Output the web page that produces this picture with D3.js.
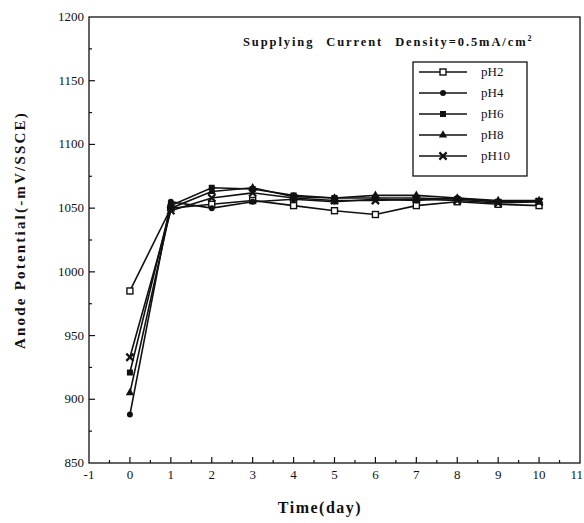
<!DOCTYPE html>
<html>
<head>
<meta charset="utf-8">
<script src="https://cdn.jsdelivr.net/npm/d3@7"></script>
<style>
  body { margin: 0; background: #fff; }
  text { font-family: "Liberation Serif", "DejaVu Serif", serif; fill: #111; }
</style>
</head>
<body>
<div id="chart"></div>
<script>
var days = [0, 1, 2, 3, 4, 5, 6, 7, 8, 9, 10];
var seriesNames = ["pH2", "pH4", "pH6", "pH8", "pH10"];
var pH2  = [985, 1050, 1053, 1056, 1052, 1048, 1045, 1052, 1055, 1053, 1052];
var pH4  = [888, 1055, 1050, 1055, 1057, 1055, 1057, 1056, 1058, 1055, 1056];
var pH6  = [921, 1052, 1066, 1065, 1060, 1058, 1058, 1058, 1057, 1055, 1055];
var pH8  = [905, 1050, 1063, 1066, 1059, 1058, 1060, 1060, 1058, 1056, 1056];
var pH10 = [933, 1048, 1058, 1062, 1058, 1056, 1056, 1057, 1056, 1054, 1055];
var xTicks = [-1, 0, 1, 2, 3, 4, 5, 6, 7, 8, 9, 10, 11];
var yTicks = [850, 900, 950, 1000, 1050, 1100, 1150, 1200];

var seriesValues = [pH2, pH4, pH6, pH8, pH10];
var markers = ["openSquare", "circle", "square", "triangle", "cross"];

var width = 584, height = 523;
var margin = {left: 89, top: 17, right: 4, bottom: 60};

var svg = d3.select("#chart").append("svg")
    .attr("width", width)
    .attr("height", height);

var x = d3.scaleLinear().domain([-1, 11]).range([margin.left, width - margin.right]);
var y = d3.scaleLinear().domain([850, 1200]).range([height - margin.bottom, margin.top]);

//plot frame
svg.append("rect")
    .attr("x", x(-1)).attr("y", y(1200))
    .attr("width", x(11) - x(-1)).attr("height", y(850) - y(1200))
    .style("fill", "none").style("stroke", "#111").style("stroke-width", 1.3);

//minor + major ticks pointing inward
var xMinor = d3.range(-0.5, 11, 0.5);
svg.selectAll(".xtick").data(xMinor).enter().append("line")
    .attr("x1", function(d) { return x(d); }).attr("x2", function(d) { return x(d); })
    .attr("y1", y(850))
    .attr("y2", function(d) { return y(850) - (d % 1 === 0 ? 6 : 3); })
    .style("stroke", "#111").style("stroke-width", 1.2);

var yMinor = d3.range(875, 1200, 25);
svg.selectAll(".ytick").data(yMinor).enter().append("line")
    .attr("y1", function(d) { return y(d); }).attr("y2", function(d) { return y(d); })
    .attr("x1", x(-1))
    .attr("x2", function(d) { return x(-1) + (d % 50 === 0 ? 6 : 3); })
    .style("stroke", "#111").style("stroke-width", 1.2);

//tick labels (last one pulled in so it stays on the page)
svg.selectAll(".xlab").data(xTicks).enter().append("text")
    .attr("x", function(d) { return d === 11 ? width - 1 : x(d); })
    .attr("y", y(850) + 16)
    .style("text-anchor", function(d) { return d === 11 ? "end" : "middle"; })
    .style("font-size", "13px")
    .text(function(d) { return d; });

svg.selectAll(".ylab").data(yTicks).enter().append("text")
    .attr("x", x(-1) - 5)
    .attr("y", function(d) { return y(d) + 4; })
    .style("text-anchor", "end")
    .style("font-size", "13px")
    .text(function(d) { return d; });

//axis titles
svg.append("text")
    .attr("x", 320)
    .attr("y", 513)
    .style("text-anchor", "middle")
    .style("font-size", "16px")
    .style("font-weight", "bold")
    .style("letter-spacing", "1.5px")
    .text("Time(day)");

svg.append("text")
    .attr("transform", "translate(25,230) rotate(-90)")
    .style("text-anchor", "middle")
    .style("font-size", "15px")
    .style("font-weight", "bold")
    .style("letter-spacing", "2.2px")
    .text("Anode Potential(-mV/SSCE)");

//chart title
var title = svg.append("text")
    .attr("x", 243).attr("y", 46)
    .style("font-size", "12.5px")
    .style("font-weight", "bold")
    .style("letter-spacing", "1.9px")
    .style("word-spacing", "7px")
    .text("Supplying Current Density=0.5mA/cm");
title.append("tspan").attr("dy", -5).style("font-size", "8px").text("2");

//marker drawing
function drawMarker(g, type, cx, cy) {
    if (type === "openSquare") {
        g.append("rect").attr("x", cx - 3).attr("y", cy - 3).attr("width", 6).attr("height", 6)
            .style("fill", "#fff").style("stroke", "#111").style("stroke-width", 1.4);
    } else if (type === "circle") {
        g.append("circle").attr("cx", cx).attr("cy", cy).attr("r", 3).style("fill", "#111");
    } else if (type === "square") {
        g.append("rect").attr("x", cx - 3).attr("y", cy - 3).attr("width", 6).attr("height", 6)
            .style("fill", "#111");
    } else if (type === "triangle") {
        g.append("path").attr("d", d3.symbol().type(d3.symbolTriangle).size(30)())
            .attr("transform", "translate(" + cx + "," + cy + ")").style("fill", "#111");
    } else {
        g.append("path").attr("d", d3.symbol().type(d3.symbolX).size(36)())
            .attr("transform", "translate(" + cx + "," + cy + ")")
            .style("stroke", "#111").style("stroke-width", 2.2);
    }
}

var line = d3.line()
    .x(function(d, i) { return x(days[i]); })
    .y(function(d) { return y(d); });

seriesValues.forEach(function(vals, s) {
    svg.append("path")
        .attr("d", line(vals))
        .style("fill", "none").style("stroke", "#111").style("stroke-width", 1.6);
});
seriesValues.forEach(function(vals, s) {
    var g = svg.append("g");
    vals.forEach(function(v, i) { drawMarker(g, markers[s], x(days[i]), y(v)); });
});

//legend
var legend = svg.append("g");
legend.append("rect")
    .attr("x", 413).attr("y", 62).attr("width", 114).attr("height", 114)
    .style("fill", "#fff").style("stroke", "#111").style("stroke-width", 1.3);
seriesNames.forEach(function(name, i) {
    var ly = 72 + i * 21;
    legend.append("line").attr("x1", 419).attr("x2", 467).attr("y1", ly).attr("y2", ly)
        .style("stroke", "#111").style("stroke-width", 1.4);
    drawMarker(legend, markers[i], 443, ly);
    legend.append("text").attr("x", 481).attr("y", ly + 4)
        .style("font-size", "13px").text(name);
});
</script>
</body>
</html>
